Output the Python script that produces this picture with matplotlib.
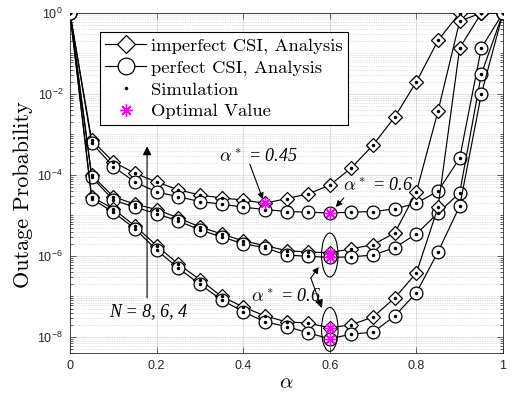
import numpy as np
import matplotlib
matplotlib.use("Agg")
import matplotlib.pyplot as plt
import matplotlib.transforms as mtrans
from matplotlib.patches import Ellipse
from matplotlib.lines import Line2D
from matplotlib.font_manager import FontProperties
from matplotlib.ticker import (FixedLocator, LogLocator, LogFormatterSciNotation,
                               NullFormatter, FuncFormatter)

plt.rcParams['font.family'] = ['Liberation Sans', 'DejaVu Sans']
plt.rcParams['mathtext.fontset'] = 'cm'

# power allocation factor
alpha = [0, 0.05, 0.1, 0.15, 0.2, 0.25, 0.3, 0.35, 0.4, 0.45, 0.5,
         0.55, 0.6, 0.65, 0.7, 0.75, 0.8, 0.85, 0.9, 0.95, 1.0]

# outage probability, N = 4
n4_imperfect = [1, 7.3e-4, 2.1e-4, 1.1e-4, 6.7e-5, 4.3e-5, 3.2e-5, 2.7e-5, 2.4e-5, 2.0e-5, 2.6e-5,
                3.4e-5, 5.6e-5, 1.5e-4, 5.5e-4, 2.7e-3, 2.0e-2, 0.21, 1, 1, 1]
n4_perfect = [1, 6.2e-4, 1.6e-4, 6.7e-5, 3.8e-5, 2.9e-5, 2.2e-5, 1.9e-5, 1.6e-5, 1.4e-5, 1.25e-5,
              1.2e-5, 1.15e-5, 1.2e-5, 1.25e-5, 1.45e-5, 2.0e-5, 4.0e-5, 2.6e-4, 0.137, 1]
# N = 6
n6_imperfect = [1, 1.0e-4, 2.9e-5, 1.9e-5, 1.4e-5, 8.7e-6, 5.2e-6, 3.5e-6, 2.35e-6, 1.8e-6, 1.35e-6,
                1.25e-6, 1.2e-6, 1.5e-6, 1.9e-6, 3.7e-6, 3.8e-5, 3.8e-3, 0.63, 1, 1]
n6_perfect = [1, 8.9e-5, 2.4e-5, 1.6e-5, 1.1e-5, 7.3e-6, 4.4e-6, 2.95e-6, 2.0e-6, 1.6e-6, 1.05e-6,
              9.8e-7, 9.2e-7, 9.5e-7, 1.05e-6, 1.6e-6, 3.5e-6, 1.15e-5, 3.6e-5, 3.1e-2, 1]
# N = 8
n8_imperfect = [1, 2.9e-5, 1.45e-5, 5.5e-6, 1.8e-6, 6.3e-7, 2.6e-7, 1.0e-7, 5.5e-8, 3.3e-8, 2.35e-8,
                2.2e-8, 1.67e-8, 2.0e-8, 3.1e-8, 9.2e-8, 3.8e-7, 1.6e-5, 0.137, 1, 1]
n8_perfect = [1, 2.6e-5, 1.2e-5, 4.7e-6, 1.4e-6, 5.0e-7, 2.0e-7, 8.2e-8, 4.2e-8, 2.35e-8, 1.8e-8,
              1.26e-8, 8.9e-9, 1.18e-8, 1.3e-8, 3.3e-8, 1.23e-7, 1.26e-6, 1.7e-5, 1.0e-2, 1]

imperfect_list = [n4_imperfect, n6_imperfect, n8_imperfect]
perfect_list = [n4_perfect, n6_perfect, n8_perfect]

fig = plt.figure(figsize=(5.12, 3.98), dpi=100)
ax = fig.add_axes([70/512, 45/398, 433/512, 340/398])
ax.set_yscale('log')
ax.set_xlim(0, 1)
ax.set_ylim(4e-9, 1)

line_kw = dict(color='k', lw=0.85, mfc='white', mec='k', mew=0.9)

for imp, per in zip(imperfect_list, perfect_list):
    ax.plot(alpha, imp, marker='D', ms=6.8, zorder=3, **line_kw)
    ax.plot(alpha, per, marker='o', ms=9.2, zorder=3, **line_kw)

# simulation points
for ys in imperfect_list + perfect_list:
    ax.plot(alpha, ys, ls='none', marker='.', ms=3, color='k', zorder=4)

# optimal alpha of every curve
opt_x, opt_y = [], []
for ys in imperfect_list + perfect_list:
    i = int(np.argmin(ys))
    opt_x.append(alpha[i])
    opt_y.append(ys[i])
ax.plot(opt_x, opt_y, ls='none', marker=(8, 2, 0), ms=8.5, mew=1.0,
        color='magenta', zorder=5)


def px(dx, dy):
    # shift in screen pixels (dy positive downwards)
    return ax.transData + mtrans.ScaledTranslation(dx/100, -dy/100, fig.dpi_scale_trans)


arrow_kw = dict(arrowstyle='-|>', color='k', lw=0.8, mutation_scale=9, shrinkA=0, shrinkB=0)
ann_font = dict(family=['Liberation Serif', 'DejaVu Serif'], style='italic', size=13)

# alpha* = 0.45
p = (opt_x[0], opt_y[0])
ax.annotate('', xy=p, xycoords=px(-2, -4), xytext=p, textcoords=px(-15, -39), arrowprops=arrow_kw)
ax.text(*p, r'$\alpha^*$ = 0.45', transform=px(-6, -47), ha='center', va='center', **ann_font)

# alpha* = 0.6 (N = 4)
p = (opt_x[3], opt_y[3])
ax.annotate('', xy=p, xycoords=px(6, -6), xytext=p, textcoords=px(14, -15), arrowprops=arrow_kw)
ax.text(*p, r'$\alpha^*$ = 0.6', transform=px(48, -27), ha='center', va='center', **ann_font)

# ellipses round the N = 6 and N = 8 optima
c6 = (opt_x[1], np.sqrt(opt_y[1] * opt_y[4]))
c8 = (opt_x[2], np.sqrt(opt_y[2] * opt_y[5]))
for c, dy in [(c6, 0), (c8, -4)]:
    tr = fig.dpi_scale_trans + mtrans.ScaledTranslation(c[0], c[1], ax.transData)
    ax.add_patch(Ellipse((0, -dy/100), 0.165, 0.44, transform=tr, fill=False,
                         ec='k', lw=0.8, zorder=6))

ax.annotate('', xy=c6, xycoords=px(-11, 12), xytext=c6, textcoords=px(-19, 23), arrowprops=arrow_kw)
ax.annotate('', xy=c6, xycoords=px(-8, 53), xytext=c6, textcoords=px(-19, 23),
            arrowprops=dict(arrow_kw, mutation_scale=12))
ax.text(*c6, r'$\alpha^*$ = 0.6', transform=px(-44, 41), ha='center', va='center', **ann_font)

# N arrow
ax.annotate('', xy=(0.178, 0.608), xycoords='axes fraction', xytext=(0.178, 0.162),
            arrowprops=dict(arrow_kw, mutation_scale=13))
ax.text(0.18, 0.121, 'N = 8, 6, 4', transform=ax.transAxes, ha='center', va='center', **ann_font)

# axes styling
ax.yaxis.set_major_locator(FixedLocator([1e0, 1e-2, 1e-4, 1e-6, 1e-8]))
ax.yaxis.set_major_formatter(LogFormatterSciNotation())
ax.yaxis.set_minor_locator(LogLocator(base=10, subs=np.arange(1, 10), numticks=30))
ax.yaxis.set_minor_formatter(NullFormatter())
ax.set_xticks([0, 0.2, 0.4, 0.6, 0.8, 1.0])
ax.xaxis.set_major_formatter(FuncFormatter(lambda v, pos: f'{v:g}'))

ax.grid(which='major', color='#dcdcdc', lw=0.6, ls='-', zorder=0)
ax.grid(which='minor', axis='y', color='#c8c8c8', lw=0.5, ls=(0, (1, 1.5)), zorder=0)
ax.set_axisbelow(True)

ax.tick_params(which='both', direction='in', top=True, right=True, colors='#262626',
               width=0.5, labelsize=9, pad=5)
ax.tick_params(which='major', length=4)
ax.tick_params(which='minor', length=2)
for s in ax.spines.values():
    s.set_color('#262626')
    s.set_linewidth(0.6)

ax.set_ylabel('Outage Probability', fontproperties=FontProperties(family='cmr10', size=16))
ax.yaxis.set_label_coords(-0.086, 0.465)
ax.set_xlabel(r'$\alpha$', fontsize=15, labelpad=1)

# legend proxies (markers drawn a bit larger than on the curves)
leg_handles = [
    Line2D([], [], marker='D', ms=9, **line_kw),
    Line2D([], [], marker='o', ms=12, **line_kw),
    Line2D([], [], ls='none', marker='.', ms=3, color='k'),
    Line2D([], [], ls='none', marker=(8, 2, 0), ms=9, mew=1.0, color='magenta'),
]
leg = ax.legend(leg_handles,
                ['imperfect CSI, Analysis', 'perfect CSI, Analysis', 'Simulation', 'Optimal Value'],
                loc='upper left', bbox_to_anchor=(0.069, 0.944), borderaxespad=0,
                prop=FontProperties(family='cmr10', size=13.4), fancybox=False,
                edgecolor='k', framealpha=1, borderpad=0.3, labelspacing=0.3,
                handlelength=2.2, handletextpad=0.25)
leg.get_frame().set_linewidth(0.8)
leg.set_zorder(10)

fig.savefig('out.png', dpi=100)
